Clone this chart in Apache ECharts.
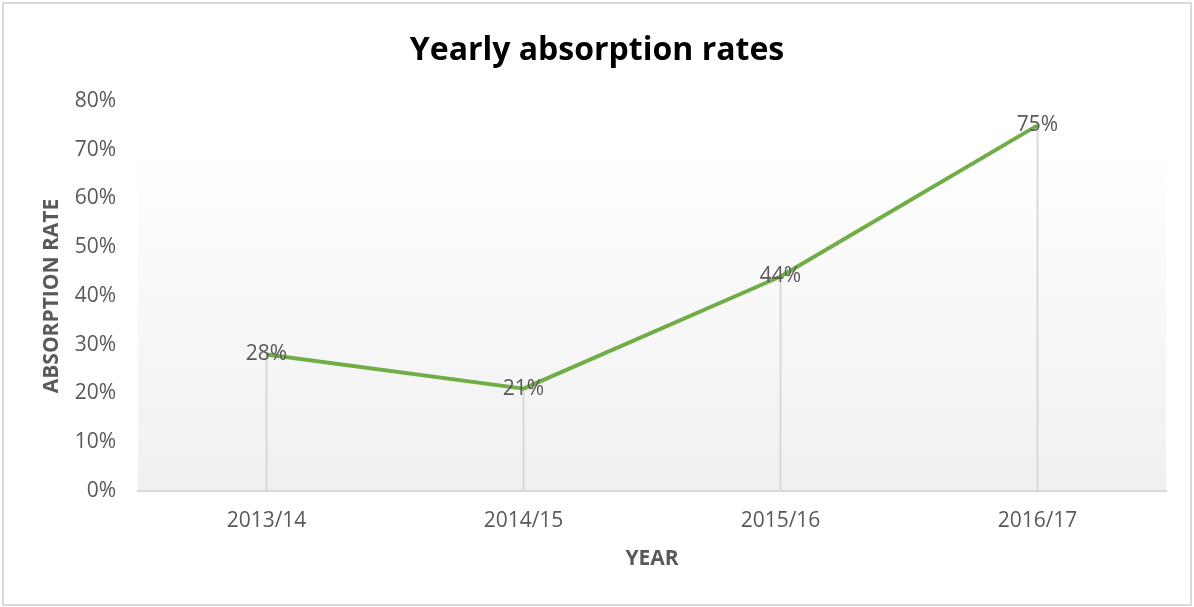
<!DOCTYPE html>
<html>
<head>
<meta charset="utf-8">
<script src="https://cdn.jsdelivr.net/npm/echarts@6/dist/echarts.min.js"></script>
<style>
html,body{margin:0;padding:0;background:#fff;}
#frame{position:absolute;left:2px;top:2px;width:1186px;height:600px;border:2px solid #d9d9d9;box-sizing:content-box;}
#chart{position:absolute;left:0;top:0;width:1194px;height:607px;}
</style>
</head>
<body>
<div id="frame"></div>
<div id="chart"></div>
<script>
const categories = ['2013/14', '2014/15', '2015/16', '2016/17'];
const absorptionRate = [28, 21, 44, 75];
const yTicks = [0, 10, 20, 30, 40, 50, 60, 70, 80];

const FONT = 'Open Sans';
const chart = echarts.init(document.getElementById('chart'), null, {renderer: 'canvas'});
chart.setOption({
  backgroundColor: 'transparent',
  animation: false,
  title: {
    text: 'Yearly absorption rates',
    left: 'center',
    top: 30,
    textStyle: {fontFamily: FONT, fontSize: 32, fontWeight: 'bold', color: '#000'}
  },
  grid: {
    left: 138, right: 28, top: 101, bottom: 116,
    show: true, borderWidth: 0,
    backgroundColor: {
      type: 'linear', x: 0, y: 0, x2: 0, y2: 1,
      colorStops: [{offset: 0, color: '#ffffff'}, {offset: 0.12, color: '#ffffff'}, {offset: 1, color: '#f0f0f0'}]
    }
  },
  xAxis: {
    type: 'category',
    data: categories,
    boundaryGap: true,
    name: 'YEAR',
    nameLocation: 'middle',
    nameGap: 58,
    nameTextStyle: {fontFamily: FONT, fontSize: 21, fontWeight: 'bold', color: '#595959'},
    axisLine: {lineStyle: {color: '#d9d9d9', width: 2}},
    axisTick: {show: false},
    axisLabel: {fontFamily: FONT, fontSize: 21, color: '#595959', margin: 20},
    splitLine: {show: false}
  },
  yAxis: {
    type: 'value',
    min: yTicks[0],
    max: yTicks[yTicks.length - 1],
    interval: 10,
    name: 'ABSORPTION RATE',
    nameLocation: 'middle',
    nameGap: 75,
    nameRotate: 90,
    nameTextStyle: {fontFamily: FONT, fontSize: 21, fontWeight: 'bold', color: '#595959'},
    axisLine: {show: false},
    axisTick: {show: false},
    splitLine: {show: false},
    axisLabel: {fontFamily: FONT, fontSize: 21, color: '#595959', margin: 22, formatter: v => v + '%'}
  },
  series: [
    {
      type: 'bar',
      data: absorptionRate,
      barWidth: 2,
      itemStyle: {color: '#d9d9d9'},
      silent: true,
      z: 1
    },
    {
      type: 'line',
      data: absorptionRate,
      symbol: 'circle',
      symbolSize: 1,
      itemStyle: {color: '#70ad47'},
      lineStyle: {color: '#70ad47', width: 4},
      label: {
        show: true,
        position: 'inside',
        fontFamily: FONT,
        fontSize: 21,
        color: '#595959',
        formatter: p => p.value + '%'
      },
      z: 3
    }
  ]
});
</script>
</body>
</html>
